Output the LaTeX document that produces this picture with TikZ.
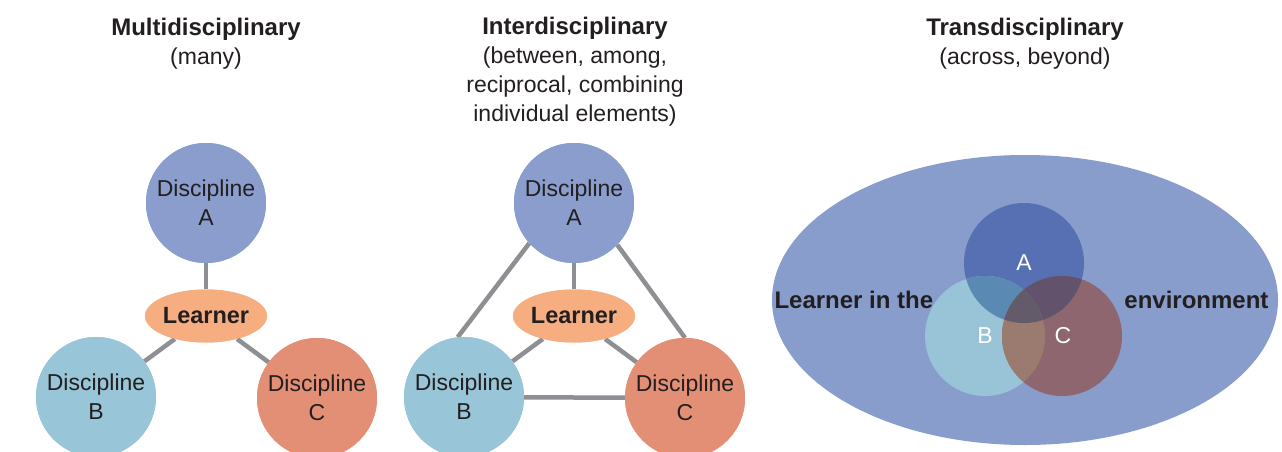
\documentclass[tikz,border=0pt]{standalone}
\usepackage{fontspec}
\setmainfont{Liberation Sans}
\usetikzlibrary{shapes.geometric}
\definecolor{txt}{HTML}{231F20}
\definecolor{colA}{HTML}{8A9DCC}
\definecolor{colB}{HTML}{98C5D8}
\definecolor{colC}{HTML}{E38F75}
\definecolor{colL}{HTML}{F6AD80}
\definecolor{lin}{HTML}{8E8F93}
\definecolor{env}{HTML}{889DCC}
\definecolor{vA}{HTML}{5670B3}
\definecolor{vB}{HTML}{99C4D8}
\definecolor{vC}{HTML}{8D6670}
\definecolor{vAB}{HTML}{5A89B3}
\definecolor{vAC}{HTML}{63526B}
\definecolor{vBC}{HTML}{9B7B6F}
\definecolor{vABC}{HTML}{645B6A}
\begin{document}
\begin{tikzpicture}[x=1pt,y=-1pt,
  every node/.style={text=txt,font=\fontsize{23}{29}\selectfont},
  disc/.style={circle,minimum size=120pt,inner sep=0pt,align=center},
  learner/.style={ellipse,fill=colL,minimum width=118pt,minimum height=53pt,inner sep=0pt,font=\fontsize{23.5}{29}\selectfont\bfseries},
  link/.style={draw=lin,line width=4.5pt},
  head/.style={align=center,font=\fontsize{23}{29}\selectfont},
  btitle/.style={font=\fontsize{24}{29}\selectfont\bfseries},
  vlab/.style={text=white,font=\fontsize{23}{29}\selectfont}]
\useasboundingbox (0,0) rectangle (1282,452);
\fill[white] (0,0) rectangle (1282,452);

% Panel 1
\node[head] (t1) at (206,44) {{\fontsize{24}{29}\selectfont\bfseries Multidisciplinary}\\(many)};
\node[disc,fill=colA] (a1) at (206,203) {Discipline\\A};
\node[learner] (l1) at (206,316) {Learner};
\node[disc,fill=colB] (b1) at (96,397) {Discipline\\B};
\node[disc,fill=colC] (c1) at (317,398) {Discipline\\C};
\draw[link] (a1) -- (l1);
\draw[link] (l1) -- (b1);
\draw[link] (l1) -- (c1);
\node[disc,fill=colA] at (a1) {Discipline\\A};
\node[learner] at (l1) {Learner};
\node[disc,fill=colB] at (b1) {Discipline\\B};
\node[disc,fill=colC] at (c1) {Discipline\\C};

% Panel 2
\node[head] (t2) at (575,72) {{\fontsize{24}{29}\selectfont\bfseries Interdisciplinary}\\(between, among,\\reciprocal, combining\\individual elements)};
\node[disc,fill=colA] (a2) at (574,203) {Discipline\\A};
\node[learner] (l2) at (574,316) {Learner};
\node[disc,fill=colB] (b2) at (464,397) {Discipline\\B};
\node[disc,fill=colC] (c2) at (685,398) {Discipline\\C};
\draw[link] (a2.222) -- (b2.96);
\draw[link] (a2.316) -- (c2.90);
\draw[link] (b2) -- (c2);
\draw[link] (a2) -- (l2);
\draw[link] (l2) -- (b2);
\draw[link] (l2) -- (c2);
\node[disc,fill=colA] at (a2) {Discipline\\A};
\node[learner] at (l2) {Learner};
\node[disc,fill=colB] at (b2) {Discipline\\B};
\node[disc,fill=colC] at (c2) {Discipline\\C};

% Panel 3
\node[head] (t3) at (1025,44) {{\fontsize{24}{29}\selectfont\bfseries Transdisciplinary}\\(across, beyond)};
\node[ellipse,fill=env,minimum width=506pt,minimum height=290pt,inner sep=0pt] (e3) at (1025,300) {};
\def\rA{(1024,263) circle[radius=60]}
\def\rB{(985,336) circle[radius=60]}
\def\rC{(1062,336) circle[radius=60]}
\fill[vA] \rA;
\fill[vB] \rB;
\fill[vC] \rC;
\begin{scope}\clip \rA; \fill[vAB] \rB; \end{scope}
\begin{scope}\clip \rA; \fill[vAC] \rC; \end{scope}
\begin{scope}\clip \rB; \fill[vBC] \rC; \end{scope}
\begin{scope}\clip \rA; \clip \rB; \fill[vABC] \rC; \end{scope}
\node[vlab] (va) at (1024,263) {A};
\node[vlab] (vb) at (985,336) {B};
\node[vlab] (vc) at (1063,336) {C};
\node[anchor=west,btitle] (lt) at (771,300) {Learner in the};
\node[anchor=east,btitle] (en) at (1272,300) {environment};
\end{tikzpicture}
\end{document}
